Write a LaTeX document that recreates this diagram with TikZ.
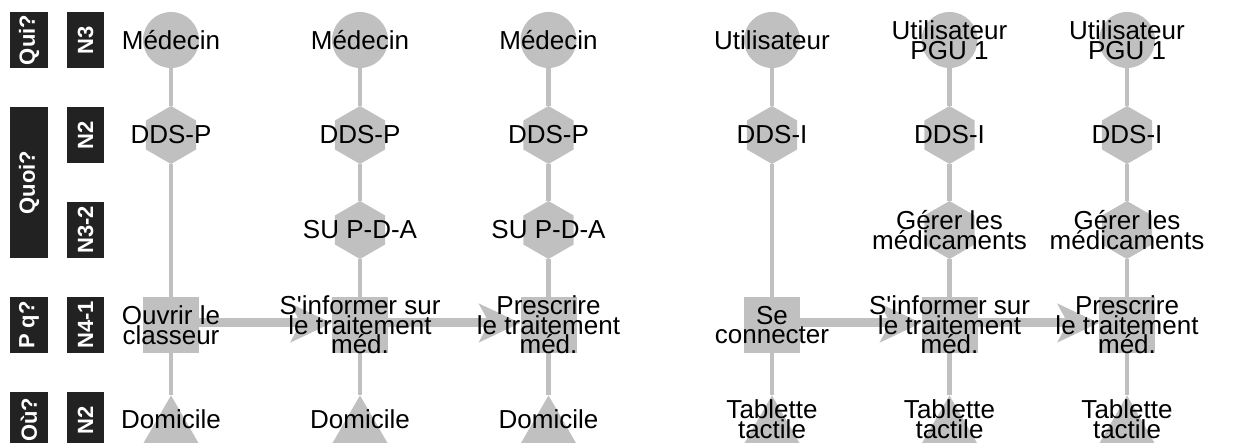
\documentclass[tikz,border=0pt]{standalone}
\usepackage{fontspec}
\setmainfont{Liberation Sans}[Ligatures=TeXOff]
\usetikzlibrary{shapes.geometric,arrows.meta}
\definecolor{shapegray}{RGB}{192,192,192}
\definecolor{lblblack}{RGB}{34,34,34}
\pgfdeclarelayer{background}
\pgfsetlayers{background,main}
\setlength{\lineskiplimit}{-100pt}
\begin{document}
\begin{tikzpicture}[x=1pt,y=-1pt,
 disc/.style={circle, fill=shapegray, minimum size=56pt, inner sep=0pt},
 hexa/.style={regular polygon, regular polygon sides=6, shape border rotate=30, fill=shapegray, minimum size=58pt, inner sep=0pt},
 sqbox/.style={rectangle, fill=shapegray, minimum size=56pt, inner sep=0pt},
 tri/.style={regular polygon, regular polygon sides=3, fill=shapegray, minimum size=66pt, inner sep=0pt, anchor=corner 1},
 txt/.style={align=center, inner sep=0pt, font=\fontsize{26pt}{19.5pt}\selectfont},
 vline/.style={draw=shapegray, line width=4.5pt},
 harr/.style={draw=shapegray, line width=9pt, -{Stealth[length=41pt,width=38pt,inset=10pt]}},
 lbl/.style={fill=lblblack, text=white, font=\bfseries\fontsize{22pt}{22pt}\selectfont, rotate=90, inner sep=0pt, minimum height=37.5pt}
]
\useasboundingbox (0,0) rectangle (1234,443);

% left labels
\node[lbl, minimum width=56pt] (qa) at (29,40) {Qui?};
\node[lbl, minimum width=151pt] (qb) at (29,182.5) {Quoi?};
\node[lbl, minimum width=56pt] (qc) at (29,325) {P q?};
\node[lbl, minimum width=56pt] (qd) at (29,420) {Où?};
\node[lbl, minimum width=56pt] (na) at (85.5,40) {N3};
\node[lbl, minimum width=56pt] (nb) at (85.5,135) {N2};
\node[lbl, minimum width=56pt] (nc) at (85.5,230) {N3-2};
\node[lbl, minimum width=56pt] (nd) at (85.5,325) {N4-1};
\node[lbl, minimum width=56pt] (ne) at (85.5,420) {N2};

% column 1
\node[disc] (c1) at (171,40) {};
\node[hexa] (h1) at (171,135) {};
\node[sqbox] (s1) at (171,325) {};
\node[tri] (t1) at (171,395) {};
% column 2
\node[disc] (c2) at (360,40) {};
\node[hexa] (h2) at (360,135) {};
\node[hexa] (u2) at (360,230) {};
\node[sqbox] (s2) at (360,325) {};
\node[tri] (t2) at (360,395) {};
% column 3
\node[disc] (c3) at (548.5,40) {};
\node[hexa] (h3) at (548.5,135) {};
\node[hexa] (u3) at (548.5,230) {};
\node[sqbox] (s3) at (548.5,325) {};
\node[tri] (t3) at (548.5,395) {};
% column 4
\node[disc] (c4) at (772,40) {};
\node[hexa] (h4) at (772,135) {};
\node[sqbox] (s4) at (772,325) {};
\node[tri] (t4) at (772,395) {};
% column 5
\node[disc] (c5) at (949.5,40) {};
\node[hexa] (h5) at (949.5,135) {};
\node[hexa] (u5) at (949.5,230) {};
\node[sqbox] (s5) at (949.5,325) {};
\node[tri] (t5) at (949.5,395) {};
% column 6
\node[disc] (c6) at (1127,40) {};
\node[hexa] (h6) at (1127,135) {};
\node[hexa] (u6) at (1127,230) {};
\node[sqbox] (s6) at (1127,325) {};
\node[tri] (t6) at (1127,395) {};

% texts
\node[txt] (c1t) at (c1) {Médecin};
\node[txt] (c2t) at (c2) {Médecin};
\node[txt] (c3t) at (c3) {Médecin};
\node[txt] (c4t) at (c4) {Utilisateur};
\node[txt] (c5t) at (c5) {Utilisateur\\PGU 1};
\node[txt] (c6t) at (c6) {Utilisateur\\PGU 1};
\node[txt] (h1t) at (h1) {DDS-P};
\node[txt] (h2t) at (h2) {DDS-P};
\node[txt] (h3t) at (h3) {DDS-P};
\node[txt] (h4t) at (h4) {DDS-I};
\node[txt] (h5t) at (h5) {DDS-I};
\node[txt] (h6t) at (h6) {DDS-I};
\node[txt] (u2t) at (u2) {SU P-D-A};
\node[txt] (u3t) at (u3) {SU P-D-A};
\node[txt] (u5t) at (u5) {Gérer les\\médicaments};
\node[txt] (u6t) at (u6) {Gérer les\\médicaments};
\node[txt] (s1t) at (s1) {Ouvrir le\\classeur};
\node[txt] (s2t) at (s2) {S'informer sur\\le traitement\\méd.};
\node[txt] (s3t) at (s3) {Prescrire\\le traitement\\méd.};
\node[txt] (s4t) at (s4) {Se\\connecter};
\node[txt] (s5t) at (s5) {S'informer sur\\le traitement\\méd.};
\node[txt] (s6t) at (s6) {Prescrire\\le traitement\\méd.};
\node[txt] (t1t) at (171,419) {Domicile};
\node[txt] (t2t) at (360,419) {Domicile};
\node[txt] (t3t) at (548.5,419) {Domicile};
\node[txt] (t4t) at (772,419) {Tablette\\tactile};
\node[txt] (t5t) at (949.5,419) {Tablette\\tactile};
\node[txt] (t6t) at (1127,419) {Tablette\\tactile};

\begin{pgfonlayer}{background}
\draw[vline] (c1) -- (h1) -- (s1) -- (t1.corner 1);
\draw[vline] (c2) -- (h2) -- (u2) -- (s2) -- (t2.corner 1);
\draw[vline] (c3) -- (h3) -- (u3) -- (s3) -- (t3.corner 1);
\draw[vline] (c4) -- (h4) -- (s4) -- (t4.corner 1);
\draw[vline] (c5) -- (h5) -- (u5) -- (s5) -- (t5.corner 1);
\draw[vline] (c6) -- (h6) -- (u6) -- (s6) -- (t6.corner 1);
\draw[harr] ([yshift=2pt]s1.east) -- ([yshift=2pt]s2.west);
\draw[harr] ([yshift=2pt]s2.east) -- ([yshift=2pt]s3.west);
\draw[harr] ([yshift=2pt]s4.east) -- ([yshift=2pt]s5.west);
\draw[harr] ([yshift=2pt]s5.east) -- ([yshift=2pt]s6.west);
\end{pgfonlayer}
\end{tikzpicture}
\end{document}
